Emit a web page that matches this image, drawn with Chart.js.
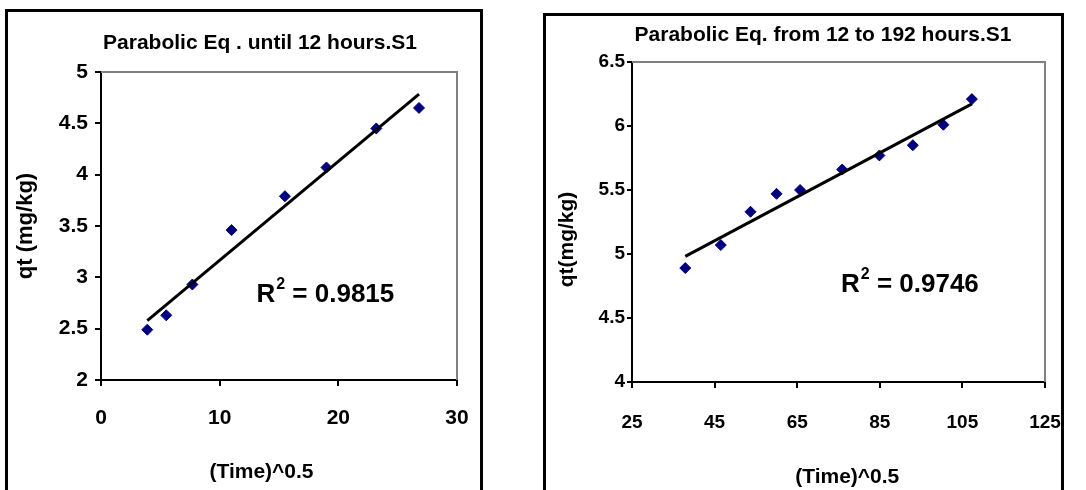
<!DOCTYPE html>
<html>
<head>
<meta charset="utf-8">
<script src="https://cdn.jsdelivr.net/npm/chart.js@4"></script>
<style>
  html, body { margin: 0; padding: 0; background: #fff; overflow: hidden; }
  body { width: 1086px; height: 490px; position: relative; }
  .box { position: absolute; box-sizing: border-box; border: 3px solid #000; height: 520px; }
  #boxL { left: 5px; top: 9px; width: 478px; }
  #boxR { left: 543px; top: 13px; width: 521px; }
  canvas { position: absolute; top: 0; }
  #left { left: 0; }
  #right { left: 543px; }
</style>
</head>
<body>
<div class="box" id="boxL"></div>
<div class="box" id="boxR"></div>
<canvas id="left" width="543" height="490"></canvas>
<canvas id="right" width="543" height="490"></canvas>
<script>
// values: x is (Time)^0.5, y is qt (mg/kg)
const leftTime = [3.9, 5.5, 7.7, 11.0, 15.5, 19.0, 23.2, 26.8];
const leftQt = [2.49, 2.63, 2.93, 3.46, 3.79, 4.07, 4.45, 4.65];
const rightTime = [37.9, 46.5, 53.7, 60.0, 65.7, 75.9, 84.9, 93.0, 100.4, 107.3];
const rightQt = [4.89, 5.07, 5.33, 5.47, 5.50, 5.66, 5.77, 5.85, 6.01, 6.21];

const leftXTicks = [0, 10, 20, 30];
const leftYTicks = [2, 2.5, 3, 3.5, 4, 4.5, 5];
const rightXTicks = [25, 45, 65, 85, 105, 125];
const rightYTicks = [4, 4.5, 5, 5.5, 6, 6.5];

const leftTitle = 'Parabolic Eq . until 12 hours.S1';
const rightTitle = 'Parabolic Eq. from 12 to 192 hours.S1';
const leftR2 = '0.9815';
const rightR2 = '0.9746';

const FONT = "'Liberation Sans', Arial, sans-serif";

// least squares line, like the Excel trendline
function linearFit(xs, ys) {
  const n = xs.length;
  const mx = xs.reduce((a, b) => a + b, 0) / n;
  const my = ys.reduce((a, b) => a + b, 0) / n;
  let sxy = 0, sxx = 0;
  for (let i = 0; i < n; i++) {
    sxy += (xs[i] - mx) * (ys[i] - my);
    sxx += (xs[i] - mx) * (xs[i] - mx);
  }
  const slope = sxy / sxx;
  const icpt = my - slope * mx;
  const x0 = Math.min(...xs), x1 = Math.max(...xs);
  return [{ x: x0, y: icpt + slope * x0 }, { x: x1, y: icpt + slope * x1 }];
}

// move the title so it sits where the original has it
const titleShift = {
  id: 'titleShift',
  afterLayout(chart, args, opts) {
    const t = chart.titleBlock;
    if (!t || opts.center == null) return;
    const half = (t.right - t.left) / 2;
    t.left = opts.center - half;
    t.right = opts.center + half;
  }
};

// grey top and right edges of the plot area
const plotFrame = {
  id: 'plotFrame',
  beforeDatasetsDraw(chart) {
    const { ctx, chartArea: a } = chart;
    ctx.save();
    ctx.strokeStyle = '#808080';
    ctx.lineWidth = 2;
    ctx.beginPath();
    ctx.moveTo(a.left, a.top);
    ctx.lineTo(a.right, a.top);
    ctx.lineTo(a.right, a.bottom);
    ctx.stroke();
    ctx.restore();
  }
};

// R^2 label placed in data units
const r2Label = {
  id: 'r2Label',
  afterDatasetsDraw(chart, args, opts) {
    const { ctx, scales } = chart;
    const x = scales.x.getPixelForValue(opts.x);
    const y = scales.y.getPixelForValue(opts.y);
    ctx.save();
    ctx.fillStyle = '#000';
    ctx.textBaseline = 'middle';
    ctx.textAlign = 'left';
    ctx.font = 'bold ' + opts.size + 'px ' + FONT;
    ctx.fillText('R', x, y);
    let cx = x + ctx.measureText('R').width + 1;
    ctx.font = 'bold ' + Math.round(opts.size * 0.6) + 'px ' + FONT;
    ctx.fillText('2', cx, y - opts.size * 0.38);
    cx += ctx.measureText('2').width;
    ctx.font = 'bold ' + opts.size + 'px ' + FONT;
    ctx.fillText(' = ' + opts.value, cx, y);
    ctx.restore();
  }
};

function axis(ticks, cfg) {
  return {
    type: 'linear',
    min: ticks[0],
    max: ticks[ticks.length - 1],
    afterBuildTicks: (s) => { s.ticks = ticks.map(v => ({ value: v })); },
    afterFit: cfg.fit,
    border: { display: true, color: '#000', width: 2 },
    grid: { display: true, drawOnChartArea: false, drawTicks: true, tickLength: cfg.tickLength, color: '#000', lineWidth: 2 },
    ticks: {
      color: '#000',
      padding: cfg.tickPad,
      font: { family: FONT, size: cfg.tickSize, weight: 'bold' },
      callback: (v) => String(v)
    },
    title: {
      display: true,
      text: cfg.title,
      color: '#000',
      font: { family: FONT, size: cfg.titleSize, weight: 'bold' },
      padding: cfg.titlePad
    }
  };
}

function makeChart(id, xs, ys, o) {
  new Chart(document.getElementById(id), {
    type: 'scatter',
    data: {
      datasets: [
        {
          data: linearFit(xs, ys),
          showLine: true,
          borderColor: '#000',
          borderWidth: 3,
          pointRadius: 0
        },
        {
          data: xs.map((x, i) => ({ x: x, y: ys[i] })),
          pointStyle: 'rectRot',
          pointRadius: 5.5,
          backgroundColor: '#000080',
          borderColor: '#000080',
          borderWidth: 1
        }
      ]
    },
    options: {
      responsive: false,
      animation: false,
      devicePixelRatio: 1,
      layout: { padding: { left: 0, top: 0, bottom: 0, right: o.padRight } },
      plugins: {
        legend: { display: false },
        tooltip: { enabled: false },
        title: {
          display: true,
          text: o.title,
          color: '#000',
          font: { family: FONT, size: 21, weight: 'bold' },
          padding: o.titlePad
        },
        titleShift: { center: o.titleCenter },
        r2Label: o.r2
      },
      scales: {
        x: axis(o.xTicks, o.x),
        y: axis(o.yTicks, o.y)
      }
    },
    plugins: [titleShift, plotFrame, r2Label]
  });
}

makeChart('left', leftTime, leftQt, {
  title: leftTitle,
  titlePad: { top: 30.4, bottom: 16.4 },
  titleCenter: 260,
  padRight: 86,
  xTicks: leftXTicks,
  yTicks: leftYTicks,
  r2: { x: 13.1, y: 2.83, size: 26, value: leftR2 },
  x: {
    fit: (s) => { s.height = 110; },
    tickLength: 6, tickPad: 20, tickSize: 21,
    title: '(Time)^0.5      ', titleSize: 21, titlePad: { top: 0, bottom: 5.4 }
  },
  y: {
    fit: (s) => { s.width = 101; },
    tickLength: 6, tickPad: 7, tickSize: 21,
    title: 'qt (mg/kg)', titleSize: 22, titlePad: { top: 12.8, bottom: 0 }
  }
});

makeChart('right', rightTime, rightQt, {
  title: rightTitle,
  titlePad: { top: 22.4, bottom: 14.4 },
  titleCenter: 280,
  padRight: 41,
  xTicks: rightXTicks,
  yTicks: rightYTicks,
  r2: { x: 75.6, y: 4.76, size: 26, value: rightR2 },
  x: {
    fit: (s) => { s.height = 108; },
    tickLength: 6, tickPad: 23, tickSize: 19,
    title: '   (Time)^0.5', titleSize: 21, titlePad: { top: 0, bottom: 0.4 }
  },
  y: {
    fit: (s) => { s.width = 89; },
    tickLength: 5, tickPad: 2, tickSize: 19,
    title: 'qt(mg/kg)      ', titleSize: 21, titlePad: { top: 11.4, bottom: 0 }
  }
});
</script>
</body>
</html>
